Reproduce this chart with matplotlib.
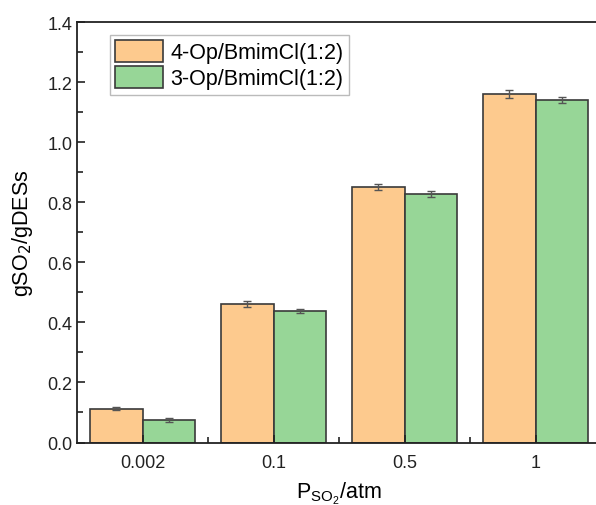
import matplotlib as mpl
mpl.use('Agg')

import matplotlib.pyplot as plt
import numpy as np
from matplotlib.ticker import MultipleLocator, AutoMinorLocator

plt.rcParams['font.family'] = ['Liberation Sans', 'DejaVu Sans']

# SO2 absorption capacity vs. partial pressure
pressures = ['0.002', '0.1', '0.5', '1']
op4 = [0.113, 0.460, 0.852, 1.160]
op4_err = [0.005, 0.010, 0.010, 0.013]
op3 = [0.075, 0.437, 0.828, 1.140]
op3_err = [0.006, 0.006, 0.009, 0.009]
labels = ['4-Op/BmimCl(1:2)', '3-Op/BmimCl(1:2)']

ORANGE = '#fdca8e'
GREEN = '#97d697'
EDGE = '#3a3a3a'

fig = plt.figure(figsize=(5.96, 5.06), dpi=100)
ax = fig.add_axes([77 / 596, 62.5 / 506, 524 / 596, 420.5 / 506])

x = np.arange(len(pressures))
w = 0.4
err_kw = dict(ecolor='#555555', elinewidth=1, capsize=3, capthick=1)
ax.bar(x - w / 2, op4, w, yerr=op4_err, color=ORANGE, edgecolor=EDGE,
       linewidth=1.2, label=labels[0], error_kw=err_kw)
ax.bar(x + w / 2, op3, w, yerr=op3_err, color=GREEN, edgecolor=EDGE,
       linewidth=1.2, label=labels[1], error_kw=err_kw)

ax.set_xlim(-0.5, 3.5)
ax.set_ylim(0, 1.4)
ax.set_xticks(x)
ax.set_xticklabels(pressures)
ax.set_xticks(x + 0.5, minor=True)
ax.yaxis.set_major_locator(MultipleLocator(0.2))
ax.yaxis.set_minor_locator(AutoMinorLocator(2))
ax.yaxis.set_major_formatter(mpl.ticker.FormatStrFormatter('%.1f'))

ax.tick_params(which='both', direction='in', labelsize=13, width=1.2,
               colors='#222222')
ax.tick_params(which='major', length=6)
ax.tick_params(which='minor', length=4)
ax.tick_params(axis='x', which='major', pad=8)
for s in ax.spines.values():
    s.set_linewidth(1.3)
    s.set_color('#222222')

ax.set_ylabel(r'gSO$_2$/gDESs', fontsize=15.5, labelpad=9)
ax.set_xlabel(r'P$_{\mathregular{SO_2}}$/atm', fontsize=15.5, labelpad=7)

leg = ax.legend(loc='upper left', bbox_to_anchor=(0.063, 0.97), fontsize=15.5,
                frameon=True, fancybox=False, edgecolor='#aaaaaa',
                handlelength=2.2, handleheight=1.2, handletextpad=0.35,
                labelspacing=0.12, borderpad=0.25, borderaxespad=0)
leg.get_frame().set_linewidth(1.0)

plt.savefig('out.png', dpi=100)
